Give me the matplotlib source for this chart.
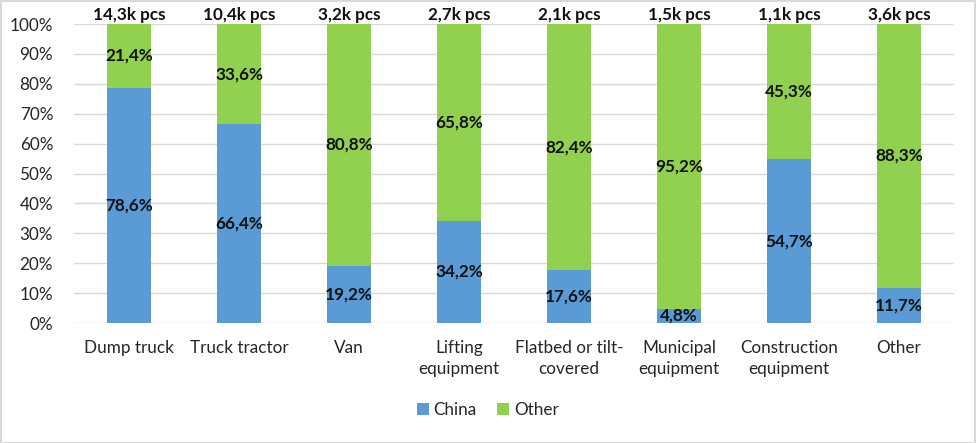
import matplotlib
matplotlib.use("Agg")
import matplotlib.pyplot as plt
from matplotlib.ticker import FuncFormatter

categories = ["Dump truck", "Truck tractor", "Van", "Lifting\nequipment",
              "Flatbed or tilt-\ncovered", "Municipal\nequipment",
              "Construction\nequipment", "Other"]
china = [78.6, 66.4, 19.2, 34.2, 17.6, 4.8, 54.7, 11.7]
other = [21.4, 33.6, 80.8, 65.8, 82.4, 95.2, 45.3, 88.3]
totals = ["14,3k pcs", "10,4k pcs", "3,2k pcs", "2,7k pcs", "2,1k pcs",
          "1,5k pcs", "1,1k pcs", "3,6k pcs"]

plt.rcParams['font.family'] = ['Lato', 'DejaVu Sans']

W, H = 976, 443
fig = plt.figure(figsize=(W/100, H/100), dpi=100)
ax = fig.add_axes([74/W, 1-323/H, (954-74)/W, (323-24)/H])

blue = "#5B9BD5"
green = "#92D050"
x = list(range(len(categories)))
b1 = ax.bar(x, china, width=0.4, color=blue, label="China", zorder=3)
b2 = ax.bar(x, other, width=0.4, bottom=china, color=green, label="Other", zorder=3)

fs = 12.3
def fmt(v):
    return f"{v:.1f}%".replace(".", ",")
for i in x:
    ax.text(i, china[i]/2, fmt(china[i]), ha="center", va="center",
            fontsize=fs, fontweight="bold", color="#111111", zorder=4)
    ax.text(i, china[i] + other[i]/2, fmt(other[i]), ha="center", va="center",
            fontsize=fs, fontweight="bold", color="#111111", zorder=4)
    ax.text(i, 100.3, totals[i], ha="center", va="bottom",
            fontsize=fs, fontweight="bold", color="#111111", zorder=4)

ax.set_xlim(-0.5, len(categories)-0.5)
ax.set_ylim(0, 100)
ax.set_yticks(range(0, 101, 10))
ax.yaxis.set_major_formatter(FuncFormatter(lambda v, p: f"{int(v)}%"))
ax.grid(axis="y", color="#D9D9D9", linewidth=1, zorder=0)
ax.set_axisbelow(True)
for s in ax.spines.values():
    s.set_visible(False)
ax.tick_params(axis="both", length=0, labelsize=fs, colors="#262626")
ax.tick_params(axis="y", pad=15)
ax.tick_params(axis="x", pad=12)
ax.set_xticks(x)
ax.set_xticklabels(categories, linespacing=1.4)

leg = fig.legend(handles=[b1, b2], labels=["China", "Other"], loc="center",
                 bbox_to_anchor=(488/W, 1-410/H), ncol=2, frameon=False,
                 fontsize=fs, handlelength=0.7, handleheight=0.7,
                 handletextpad=0.3, columnspacing=1.2)
for t in leg.get_texts():
    t.set_color("#262626")

fig.patches.append(plt.Rectangle((0.5/W, 0.5/H), 1-1.5/W, 1-1.5/H,
                                 transform=fig.transFigure, fill=False,
                                 edgecolor="#D9D9D9", linewidth=1.5))
fig.savefig("out.png", dpi=100)
